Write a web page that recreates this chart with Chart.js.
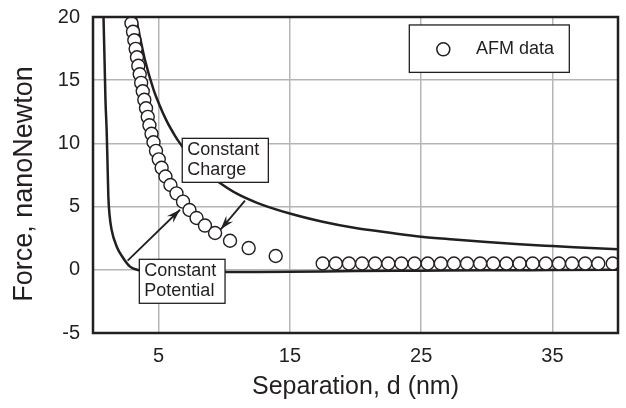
<!DOCTYPE html>
<html><head><meta charset="utf-8">
<script src="https://cdn.jsdelivr.net/npm/chart.js@4.4.1/dist/chart.umd.min.js"></script>
<style>html,body{margin:0;padding:0;background:#fff}#wrap{width:626px;height:408px}</style>
</head><body><div id="wrap"><canvas id="c" width="626" height="408"></canvas></div>
<script>
// ---- data ----
const afmSeparation = [2.93,3.05,3.15,3.25,3.35,3.45,3.56,3.67,3.79,3.91,4.04,4.17,4.30,4.46,4.61,4.80,5.01,5.23,5.52,5.90,6.36,6.86,7.35,7.89,8.53,9.30,10.44,11.86,13.92,
  17.5,18.5,19.5,20.5,21.5,22.5,23.5,24.5,25.5,26.5,27.5,28.5,29.5,30.5,31.5,32.5,33.5,34.5,35.5,36.5,37.5,38.5,39.6];
const afmForce = [19.50,18.83,18.16,17.48,16.81,16.14,15.47,14.79,14.12,13.45,12.78,12.10,11.43,10.76,10.09,9.41,8.74,8.07,7.38,6.71,6.05,5.39,4.73,4.10,3.50,2.91,2.30,1.72,1.09,
  0.5,0.5,0.5,0.5,0.5,0.5,0.5,0.5,0.5,0.5,0.5,0.5,0.5,0.5,0.5,0.5,0.5,0.5,0.5,0.5,0.5,0.5,0.5];
const chargeSeparation = [3.26,3.6,3.96,4.6,5.0,5.6,6.25,6.63,7.5,8.5,9.7,11,12.5,15,17.5,20,22.5,25,27.5,30,32.5,35,37.5,40];
const chargeForce = [20,18.3,16.6,14.3,13.2,11.8,10.6,10.0,8.8,7.8,6.85,6.0,5.3,4.45,3.8,3.3,2.95,2.62,2.4,2.2,2.02,1.88,1.75,1.62];
const potentialSeparation = [0.80,0.88,0.95,1.04,1.10,1.17,1.26,1.42,1.81,2.31,2.82,3.45,4.5,6,8,10,15,20,25,30,35,40];
const potentialForce = [20,16.6,13.43,11.06,8.69,5.78,4.34,3.15,1.83,0.91,0.25,-0.02,-0.15,-0.2,-0.2,-0.18,-0.15,-0.1,-0.07,-0.04,-0.02,0.0];
const xTickValues = [5,15,25,35];
const yTickValues = [-5,0,5,10,15,20];
const seriesNames = ['AFM data','Constant Charge','Constant Potential'];
const yTitle = 'Force, nanoNewton';

// ---- annotation placement (data coordinates) ----
const notes = [
  {lines:['Constant','Charge'], box:[6.80,10.40,13.36,6.92], arrow:[11.58,5.47,9.73,3.2]},
  {lines:['Constant','Potential'], box:[3.53,0.83,10.06,-2.65], arrow:[2.64,0.72,6.63,4.75]}
];
const legendBox = {box:[24.1,19.37,36.29,15.62], marker:[26.69,17.44], textX:29.18};

const INK = '#231f20';
const FONT = '"Liberation Sans", Arial, sans-serif';
const pts = (xs, ys) => xs.map((v,i)=>({x:v, y:ys[i]}));

function arrow(ctx,x1,y1,x2,y2){
  ctx.beginPath(); ctx.moveTo(x1,y1); ctx.lineTo(x2,y2); ctx.stroke();
  const a=Math.atan2(y2-y1,x2-x1), L=14, W=4.5;
  const c=Math.cos(a), s=Math.sin(a);
  const bx=x2-L*c, by=y2-L*s, nx=-s, ny=c;
  ctx.beginPath();
  ctx.moveTo(x2,y2);
  ctx.lineTo(bx+nx*W,by+ny*W);
  ctx.lineTo(x2-L*0.65*c,y2-L*0.65*s);
  ctx.lineTo(bx-nx*W,by-ny*W);
  ctx.closePath(); ctx.fill();
}

const overlay = {
  id:'overlay',
  afterDatasetsDraw(chart){
    const {ctx, chartArea:a, scales:{x,y}} = chart;
    ctx.save();
    ctx.strokeStyle=INK; ctx.fillStyle=INK;
    notes.forEach(n=>{
      const [x0,y0,x1,y1]=n.box;
      const L=x.getPixelForValue(x0), T=y.getPixelForValue(y0), R=x.getPixelForValue(x1), B=y.getPixelForValue(y1);
      ctx.lineWidth=1.8; ctx.fillStyle=INK;
      const [ax,ay,bx,by]=n.arrow;
      arrow(ctx,x.getPixelForValue(ax),y.getPixelForValue(ay),x.getPixelForValue(bx),y.getPixelForValue(by));
      ctx.fillStyle='#fff'; ctx.fillRect(L,T,R-L,B-T);
      ctx.lineWidth=1.3; ctx.strokeRect(L,T,R-L,B-T);
      ctx.fillStyle=INK; ctx.font='18px '+FONT; ctx.textAlign='left'; ctx.textBaseline='alphabetic';
      n.lines.forEach((t,i)=>ctx.fillText(t,L+5,T+17+i*19.5));
    });
    {
      const [x0,y0,x1,y1]=legendBox.box;
      const L=x.getPixelForValue(x0), T=y.getPixelForValue(y0), R=x.getPixelForValue(x1), B=y.getPixelForValue(y1);
      ctx.fillStyle='#fff'; ctx.fillRect(L,T,R-L,B-T);
      ctx.lineWidth=1.3; ctx.strokeRect(L,T,R-L,B-T);
      const mx=x.getPixelForValue(legendBox.marker[0]), my=y.getPixelForValue(legendBox.marker[1]);
      ctx.beginPath(); ctx.arc(mx,my,6.5,0,Math.PI*2); ctx.fillStyle='#fff'; ctx.fill(); ctx.lineWidth=1.5; ctx.stroke();
      ctx.fillStyle=INK; ctx.font='18px '+FONT; ctx.textBaseline='middle';
      ctx.fillText(seriesNames[0], x.getPixelForValue(legendBox.textX), my);
    }
    ctx.lineWidth=2.5; ctx.strokeStyle=INK;
    ctx.strokeRect(a.left,a.top,a.right-a.left,a.bottom-a.top);
    // y axis title
    ctx.translate(25,(a.top+a.bottom)/2+9);
    ctx.rotate(-Math.PI/2);
    ctx.fillStyle=INK; ctx.font='27px '+FONT; ctx.textAlign='center'; ctx.textBaseline='middle';
    ctx.fillText(yTitle,0,0);
    ctx.restore();
  }
};

new Chart(document.getElementById('c'), {
  type:'scatter',
  data:{datasets:[
    {label:seriesNames[0], data:pts(afmSeparation,afmForce), showLine:false, pointRadius:6.5, pointHoverRadius:6.5,
     pointBackgroundColor:'#fff', pointBorderColor:INK, pointBorderWidth:1.4},
    {label:seriesNames[1], data:pts(chargeSeparation,chargeForce), showLine:true, pointRadius:0, borderColor:INK, borderWidth:2.5, cubicInterpolationMode:'monotone'},
    {label:seriesNames[2], data:pts(potentialSeparation,potentialForce), showLine:true, pointRadius:0, borderColor:INK, borderWidth:2.5, cubicInterpolationMode:'monotone'}
  ]},
  options:{
    responsive:false, animation:false, devicePixelRatio:1,
    layout:{padding:{top:17,right:8,left:0,bottom:0}},
    plugins:{legend:{display:false}, tooltip:{enabled:false}},
    scales:{
      x:{type:'linear', min:0, max:40,
        afterBuildTicks:s=>{s.ticks=xTickValues.map(v=>({value:v}));},
        afterFit:s=>{s.height=75; s.paddingLeft=0; s.paddingRight=0;},
        grid:{color:'#b5b5b5', lineWidth:1.5, drawTicks:false},
        border:{display:false},
        ticks:{font:{size:20,family:FONT}, color:INK, padding:11},
        title:{display:true, text:'Separation, d (nm)', font:{size:25,family:FONT}, color:INK, padding:{top:0,bottom:6}}
      },
      y:{type:'linear', min:-5, max:20,
        afterBuildTicks:s=>{s.ticks=yTickValues.map(v=>({value:v}));},
        afterFit:s=>{s.width=93; s.paddingTop=0; s.paddingBottom=0;},
        grid:{color:'#b5b5b5', lineWidth:1.5, drawTicks:false},
        border:{display:false},
        ticks:{font:{size:20,family:FONT}, color:INK, padding:13},
        title:{display:false}
      }
    }
  },
  plugins:[overlay]
});
</script></body></html>
